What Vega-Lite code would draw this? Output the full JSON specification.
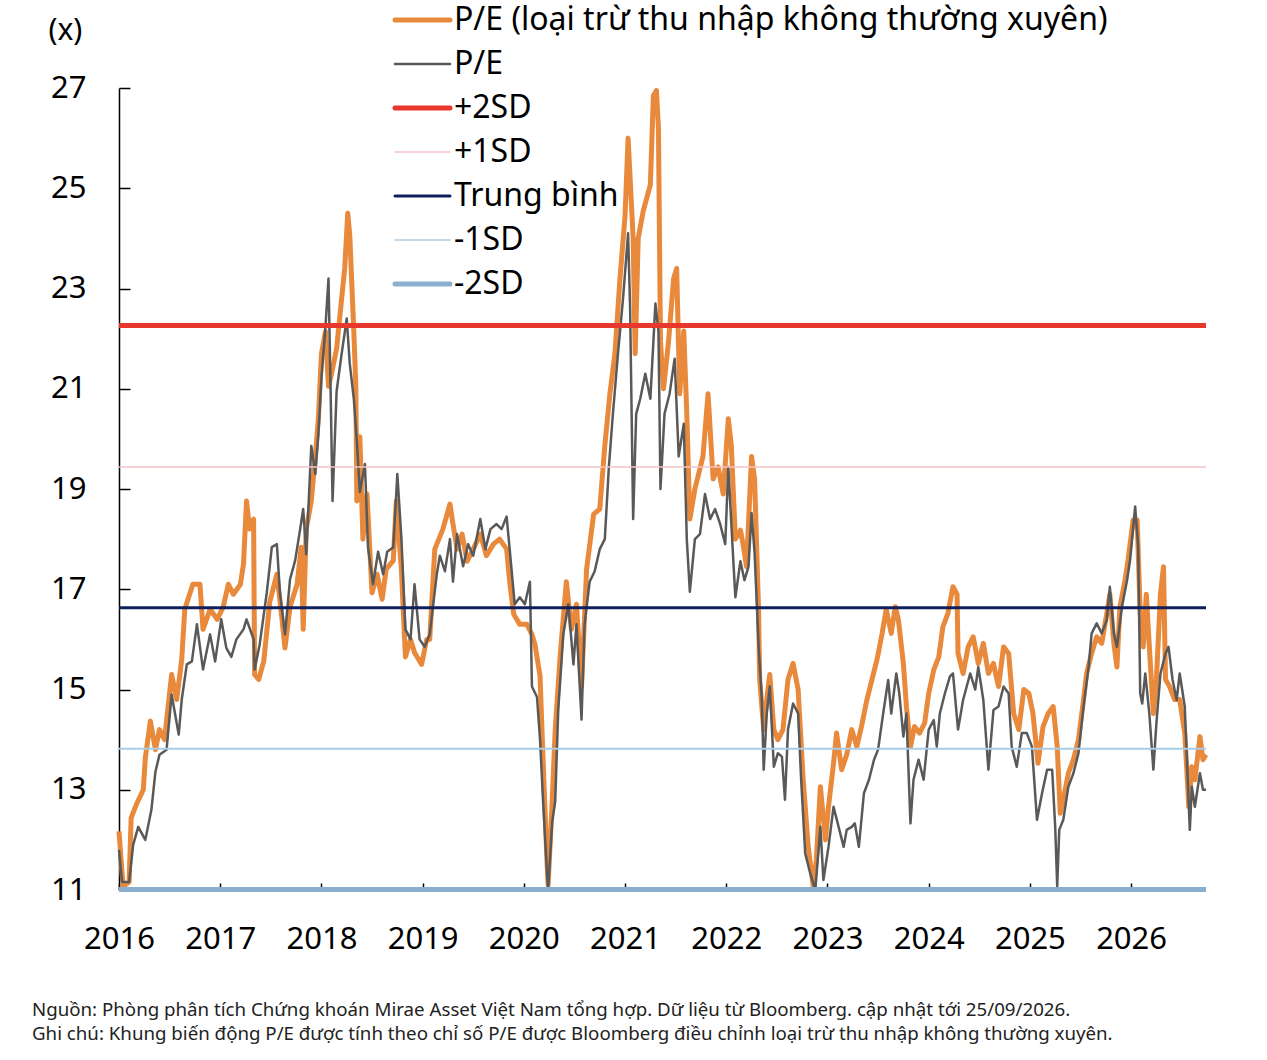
{
  "$schema": "https://vega.github.io/schema/vega-lite/v6.json",
  "width": 1087,
  "height": 802,
  "autosize": "none",
  "padding": {"left": 119, "top": 88, "right": 61, "bottom": 170},
  "background": "white",
  "config": {
    "font": "Noto Sans",
    "view": {"stroke": null},
    "axis": {"labelFont": "Noto Sans", "labelColor": "black", "domainColor": "black", "tickColor": "black", "grid": false}
  },
  "title": {
    "text": ["Nguồn: Phòng phân tích Chứng khoán Mirae Asset Việt Nam tổng hợp. Dữ liệu từ Bloomberg. cập nhật tới 25/09/2026.", "Ghi chú: Khung biến động P/E được tính theo chỉ số P/E được Bloomberg điều chỉnh loại trừ thu nhập không thường xuyên."],
    "orient": "bottom",
    "anchor": "start",
    "frame": "group",
    "offset": 47,
    "dx": -87,
    "font": "Noto Sans",
    "fontSize": 18.7,
    "fontWeight": "normal",
    "color": "#222222",
    "lineHeight": 24,
    "baseline": "top"
  },
  "datasets": {
    "pe": [
      {"series": "P/E (loại trừ thu nhập không thường xuyên)", "year": 2016.00, "value": 12.17},
      {"series": "P/E (loại trừ thu nhập không thường xuyên)", "year": 2016.04, "value": 11.07},
      {"series": "P/E (loại trừ thu nhập không thường xuyên)", "year": 2016.10, "value": 11.16},
      {"series": "P/E (loại trừ thu nhập không thường xuyên)", "year": 2016.12, "value": 12.44},
      {"series": "P/E (loại trừ thu nhập không thường xuyên)", "year": 2016.17, "value": 12.7},
      {"series": "P/E (loại trừ thu nhập không thường xuyên)", "year": 2016.24, "value": 13.0},
      {"series": "P/E (loại trừ thu nhập không thường xuyên)", "year": 2016.26, "value": 13.63},
      {"series": "P/E (loại trừ thu nhập không thường xuyên)", "year": 2016.31, "value": 14.37},
      {"series": "P/E (loại trừ thu nhập không thường xuyên)", "year": 2016.36, "value": 13.8},
      {"series": "P/E (loại trừ thu nhập không thường xuyên)", "year": 2016.40, "value": 14.2},
      {"series": "P/E (loại trừ thu nhập không thường xuyên)", "year": 2016.45, "value": 14.0},
      {"series": "P/E (loại trừ thu nhập không thường xuyên)", "year": 2016.52, "value": 15.3},
      {"series": "P/E (loại trừ thu nhập không thường xuyên)", "year": 2016.57, "value": 14.8},
      {"series": "P/E (loại trừ thu nhập không thường xuyên)", "year": 2016.62, "value": 15.6},
      {"series": "P/E (loại trừ thu nhập không thường xuyên)", "year": 2016.65, "value": 16.6},
      {"series": "P/E (loại trừ thu nhập không thường xuyên)", "year": 2016.73, "value": 17.1},
      {"series": "P/E (loại trừ thu nhập không thường xuyên)", "year": 2016.80, "value": 17.1},
      {"series": "P/E (loại trừ thu nhập không thường xuyên)", "year": 2016.83, "value": 16.2},
      {"series": "P/E (loại trừ thu nhập không thường xuyên)", "year": 2016.90, "value": 16.6},
      {"series": "P/E (loại trừ thu nhập không thường xuyên)", "year": 2016.97, "value": 16.4},
      {"series": "P/E (loại trừ thu nhập không thường xuyên)", "year": 2017.03, "value": 16.65},
      {"series": "P/E (loại trừ thu nhập không thường xuyên)", "year": 2017.08, "value": 17.1},
      {"series": "P/E (loại trừ thu nhập không thường xuyên)", "year": 2017.13, "value": 16.9},
      {"series": "P/E (loại trừ thu nhập không thường xuyên)", "year": 2017.20, "value": 17.1},
      {"series": "P/E (loại trừ thu nhập không thường xuyên)", "year": 2017.23, "value": 17.5},
      {"series": "P/E (loại trừ thu nhập không thường xuyên)", "year": 2017.26, "value": 18.76},
      {"series": "P/E (loại trừ thu nhập không thường xuyên)", "year": 2017.29, "value": 18.2},
      {"series": "P/E (loại trừ thu nhập không thường xuyên)", "year": 2017.33, "value": 18.4},
      {"series": "P/E (loại trừ thu nhập không thường xuyên)", "year": 2017.34, "value": 15.3},
      {"series": "P/E (loại trừ thu nhập không thường xuyên)", "year": 2017.38, "value": 15.2},
      {"series": "P/E (loại trừ thu nhập không thường xuyên)", "year": 2017.43, "value": 15.56},
      {"series": "P/E (loại trừ thu nhập không thường xuyên)", "year": 2017.49, "value": 16.75},
      {"series": "P/E (loại trừ thu nhập không thường xuyên)", "year": 2017.56, "value": 17.3},
      {"series": "P/E (loại trừ thu nhập không thường xuyên)", "year": 2017.60, "value": 16.6},
      {"series": "P/E (loại trừ thu nhập không thường xuyên)", "year": 2017.64, "value": 15.83},
      {"series": "P/E (loại trừ thu nhập không thường xuyên)", "year": 2017.69, "value": 16.65},
      {"series": "P/E (loại trừ thu nhập không thường xuyên)", "year": 2017.76, "value": 17.1},
      {"series": "P/E (loại trừ thu nhập không thường xuyên)", "year": 2017.80, "value": 17.84},
      {"series": "P/E (loại trừ thu nhập không thường xuyên)", "year": 2017.82, "value": 16.2},
      {"series": "P/E (loại trừ thu nhập không thường xuyên)", "year": 2017.85, "value": 18.2},
      {"series": "P/E (loại trừ thu nhập không thường xuyên)", "year": 2017.90, "value": 18.76},
      {"series": "P/E (loại trừ thu nhập không thường xuyên)", "year": 2017.94, "value": 19.67},
      {"series": "P/E (loại trừ thu nhập không thường xuyên)", "year": 2017.97, "value": 20.4},
      {"series": "P/E (loại trừ thu nhập không thường xuyên)", "year": 2018.00, "value": 21.7},
      {"series": "P/E (loại trừ thu nhập không thường xuyên)", "year": 2018.04, "value": 22.14},
      {"series": "P/E (loại trừ thu nhập không thường xuyên)", "year": 2018.07, "value": 21.05},
      {"series": "P/E (loại trừ thu nhập không thường xuyên)", "year": 2018.10, "value": 21.3},
      {"series": "P/E (loại trừ thu nhập không thường xuyên)", "year": 2018.15, "value": 21.8},
      {"series": "P/E (loại trừ thu nhập không thường xuyên)", "year": 2018.20, "value": 22.8},
      {"series": "P/E (loại trừ thu nhập không thường xuyên)", "year": 2018.23, "value": 23.4},
      {"series": "P/E (loại trừ thu nhập không thường xuyên)", "year": 2018.26, "value": 24.5},
      {"series": "P/E (loại trừ thu nhập không thường xuyên)", "year": 2018.28, "value": 24.07},
      {"series": "P/E (loại trừ thu nhập không thường xuyên)", "year": 2018.32, "value": 22.15},
      {"series": "P/E (loại trừ thu nhập không thường xuyên)", "year": 2018.34, "value": 21.05},
      {"series": "P/E (loại trừ thu nhập không thường xuyên)", "year": 2018.35, "value": 18.76},
      {"series": "P/E (loại trừ thu nhập không thường xuyên)", "year": 2018.38, "value": 20.04},
      {"series": "P/E (loại trừ thu nhập không thường xuyên)", "year": 2018.41, "value": 18.0},
      {"series": "P/E (loại trừ thu nhập không thường xuyên)", "year": 2018.45, "value": 18.9},
      {"series": "P/E (loại trừ thu nhập không thường xuyên)", "year": 2018.50, "value": 16.93},
      {"series": "P/E (loại trừ thu nhập không thường xuyên)", "year": 2018.55, "value": 17.3},
      {"series": "P/E (loại trừ thu nhập không thường xuyên)", "year": 2018.60, "value": 16.8},
      {"series": "P/E (loại trừ thu nhập không thường xuyên)", "year": 2018.64, "value": 17.4},
      {"series": "P/E (loại trừ thu nhập không thường xuyên)", "year": 2018.71, "value": 17.57},
      {"series": "P/E (loại trừ thu nhập không thường xuyên)", "year": 2018.74, "value": 18.76},
      {"series": "P/E (loại trừ thu nhập không thường xuyên)", "year": 2018.79, "value": 17.4},
      {"series": "P/E (loại trừ thu nhập không thường xuyên)", "year": 2018.83, "value": 15.65},
      {"series": "P/E (loại trừ thu nhập không thường xuyên)", "year": 2018.88, "value": 16.0},
      {"series": "P/E (loại trừ thu nhập không thường xuyên)", "year": 2018.92, "value": 15.74},
      {"series": "P/E (loại trừ thu nhập không thường xuyên)", "year": 2018.99, "value": 15.5},
      {"series": "P/E (loại trừ thu nhập không thường xuyên)", "year": 2019.04, "value": 16.0},
      {"series": "P/E (loại trừ thu nhập không thường xuyên)", "year": 2019.07, "value": 16.0},
      {"series": "P/E (loại trừ thu nhập không thường xuyên)", "year": 2019.12, "value": 17.8},
      {"series": "P/E (loại trừ thu nhập không thường xuyên)", "year": 2019.16, "value": 18.0},
      {"series": "P/E (loại trừ thu nhập không thường xuyên)", "year": 2019.20, "value": 18.2},
      {"series": "P/E (loại trừ thu nhập không thường xuyên)", "year": 2019.27, "value": 18.7},
      {"series": "P/E (loại trừ thu nhập không thường xuyên)", "year": 2019.30, "value": 18.3},
      {"series": "P/E (loại trừ thu nhập không thường xuyên)", "year": 2019.34, "value": 17.8},
      {"series": "P/E (loại trừ thu nhập không thường xuyên)", "year": 2019.39, "value": 18.1},
      {"series": "P/E (loại trừ thu nhập không thường xuyên)", "year": 2019.44, "value": 17.56},
      {"series": "P/E (loại trừ thu nhập không thường xuyên)", "year": 2019.50, "value": 17.8},
      {"series": "P/E (loại trừ thu nhập không thường xuyên)", "year": 2019.57, "value": 18.1},
      {"series": "P/E (loại trừ thu nhập không thường xuyên)", "year": 2019.63, "value": 17.67},
      {"series": "P/E (loại trừ thu nhập không thường xuyên)", "year": 2019.70, "value": 17.9},
      {"series": "P/E (loại trừ thu nhập không thường xuyên)", "year": 2019.76, "value": 18.0},
      {"series": "P/E (loại trừ thu nhập không thường xuyên)", "year": 2019.83, "value": 17.8},
      {"series": "P/E (loại trừ thu nhập không thường xuyên)", "year": 2019.86, "value": 17.15},
      {"series": "P/E (loại trừ thu nhập không thường xuyên)", "year": 2019.90, "value": 16.5},
      {"series": "P/E (loại trừ thu nhập không thường xuyên)", "year": 2019.96, "value": 16.3},
      {"series": "P/E (loại trừ thu nhập không thường xuyên)", "year": 2020.03, "value": 16.3},
      {"series": "P/E (loại trừ thu nhập không thường xuyên)", "year": 2020.08, "value": 16.1},
      {"series": "P/E (loại trừ thu nhập không thường xuyên)", "year": 2020.11, "value": 15.9},
      {"series": "P/E (loại trừ thu nhập không thường xuyên)", "year": 2020.16, "value": 15.27},
      {"series": "P/E (loại trừ thu nhập không thường xuyên)", "year": 2020.19, "value": 13.6},
      {"series": "P/E (loại trừ thu nhập không thường xuyên)", "year": 2020.23, "value": 11.5},
      {"series": "P/E (loại trừ thu nhập không thường xuyên)", "year": 2020.24, "value": 11.1},
      {"series": "P/E (loại trừ thu nhập không thường xuyên)", "year": 2020.28, "value": 12.77},
      {"series": "P/E (loại trừ thu nhập không thường xuyên)", "year": 2020.31, "value": 14.2},
      {"series": "P/E (loại trừ thu nhập không thường xuyên)", "year": 2020.36, "value": 15.7},
      {"series": "P/E (loại trừ thu nhập không thường xuyên)", "year": 2020.42, "value": 17.15},
      {"series": "P/E (loại trừ thu nhập không thường xuyên)", "year": 2020.47, "value": 16.2},
      {"series": "P/E (loại trừ thu nhập không thường xuyên)", "year": 2020.52, "value": 16.7},
      {"series": "P/E (loại trừ thu nhập không thường xuyên)", "year": 2020.57, "value": 15.06},
      {"series": "P/E (loại trừ thu nhập không thường xuyên)", "year": 2020.62, "value": 17.4},
      {"series": "P/E (loại trừ thu nhập không thường xuyên)", "year": 2020.69, "value": 18.5},
      {"series": "P/E (loại trừ thu nhập không thường xuyên)", "year": 2020.75, "value": 18.6},
      {"series": "P/E (loại trừ thu nhập không thường xuyên)", "year": 2020.80, "value": 19.86},
      {"series": "P/E (loại trừ thu nhập không thường xuyên)", "year": 2020.85, "value": 20.9},
      {"series": "P/E (loại trừ thu nhập không thường xuyên)", "year": 2020.90, "value": 21.7},
      {"series": "P/E (loại trừ thu nhập không thường xuyên)", "year": 2020.95, "value": 23.2},
      {"series": "P/E (loại trừ thu nhập không thường xuyên)", "year": 2021.00, "value": 24.45},
      {"series": "P/E (loại trừ thu nhập không thường xuyên)", "year": 2021.03, "value": 26.0},
      {"series": "P/E (loại trừ thu nhập không thường xuyên)", "year": 2021.08, "value": 24.0},
      {"series": "P/E (loại trừ thu nhập không thường xuyên)", "year": 2021.10, "value": 21.7},
      {"series": "P/E (loại trừ thu nhập không thường xuyên)", "year": 2021.13, "value": 24.0},
      {"series": "P/E (loại trừ thu nhập không thường xuyên)", "year": 2021.18, "value": 24.55},
      {"series": "P/E (loại trừ thu nhập không thường xuyên)", "year": 2021.25, "value": 25.07},
      {"series": "P/E (loại trừ thu nhập không thường xuyên)", "year": 2021.28, "value": 26.85},
      {"series": "P/E (loại trừ thu nhập không thường xuyên)", "year": 2021.31, "value": 26.95},
      {"series": "P/E (loại trừ thu nhập không thường xuyên)", "year": 2021.33, "value": 26.2},
      {"series": "P/E (loại trừ thu nhập không thường xuyên)", "year": 2021.35, "value": 21.95},
      {"series": "P/E (loại trừ thu nhập không thường xuyên)", "year": 2021.38, "value": 21.0},
      {"series": "P/E (loại trừ thu nhập không thường xuyên)", "year": 2021.43, "value": 21.95},
      {"series": "P/E (loại trừ thu nhập không thường xuyên)", "year": 2021.48, "value": 23.2},
      {"series": "P/E (loại trừ thu nhập không thường xuyên)", "year": 2021.51, "value": 23.4},
      {"series": "P/E (loại trừ thu nhập không thường xuyên)", "year": 2021.54, "value": 20.9},
      {"series": "P/E (loại trừ thu nhập không thường xuyên)", "year": 2021.58, "value": 22.15},
      {"series": "P/E (loại trừ thu nhập không thường xuyên)", "year": 2021.61, "value": 20.5},
      {"series": "P/E (loại trừ thu nhập không thường xuyên)", "year": 2021.64, "value": 18.4},
      {"series": "P/E (loại trừ thu nhập không thường xuyên)", "year": 2021.69, "value": 19.0},
      {"series": "P/E (loại trừ thu nhập không thường xuyên)", "year": 2021.77, "value": 19.65},
      {"series": "P/E (loại trừ thu nhập không thường xuyên)", "year": 2021.82, "value": 20.9},
      {"series": "P/E (loại trừ thu nhập không thường xuyên)", "year": 2021.87, "value": 19.2},
      {"series": "P/E (loại trừ thu nhập không thường xuyên)", "year": 2021.92, "value": 19.44},
      {"series": "P/E (loại trừ thu nhập không thường xuyên)", "year": 2021.97, "value": 18.9},
      {"series": "P/E (loại trừ thu nhập không thường xuyên)", "year": 2022.02, "value": 20.4},
      {"series": "P/E (loại trừ thu nhập không thường xuyên)", "year": 2022.05, "value": 19.86},
      {"series": "P/E (loại trừ thu nhập không thường xuyên)", "year": 2022.09, "value": 18.0},
      {"series": "P/E (loại trừ thu nhập không thường xuyên)", "year": 2022.14, "value": 18.18},
      {"series": "P/E (loại trừ thu nhập không thường xuyên)", "year": 2022.17, "value": 17.85},
      {"series": "P/E (loại trừ thu nhập không thường xuyên)", "year": 2022.20, "value": 17.45},
      {"series": "P/E (loại trừ thu nhập không thường xuyên)", "year": 2022.25, "value": 19.65},
      {"series": "P/E (loại trừ thu nhập không thường xuyên)", "year": 2022.28, "value": 19.2},
      {"series": "P/E (loại trừ thu nhập không thường xuyên)", "year": 2022.32, "value": 16.52},
      {"series": "P/E (loại trừ thu nhập không thường xuyên)", "year": 2022.33, "value": 15.2},
      {"series": "P/E (loại trừ thu nhập không thường xuyên)", "year": 2022.37, "value": 14.2},
      {"series": "P/E (loại trừ thu nhập không thường xuyên)", "year": 2022.40, "value": 14.8},
      {"series": "P/E (loại trừ thu nhập không thường xuyên)", "year": 2022.43, "value": 15.3},
      {"series": "P/E (loại trừ thu nhập không thường xuyên)", "year": 2022.47, "value": 14.2},
      {"series": "P/E (loại trừ thu nhập không thường xuyên)", "year": 2022.51, "value": 14.0},
      {"series": "P/E (loại trừ thu nhập không thường xuyên)", "year": 2022.56, "value": 14.2},
      {"series": "P/E (loại trừ thu nhập không thường xuyên)", "year": 2022.61, "value": 15.2},
      {"series": "P/E (loại trừ thu nhập không thường xuyên)", "year": 2022.66, "value": 15.52},
      {"series": "P/E (loại trừ thu nhập không thường xuyên)", "year": 2022.71, "value": 15.0},
      {"series": "P/E (loại trừ thu nhập không thường xuyên)", "year": 2022.76, "value": 13.2},
      {"series": "P/E (loại trừ thu nhập không thường xuyên)", "year": 2022.81, "value": 11.86},
      {"series": "P/E (loại trừ thu nhập không thường xuyên)", "year": 2022.86, "value": 11.06},
      {"series": "P/E (loại trừ thu nhập không thường xuyên)", "year": 2022.89, "value": 11.6},
      {"series": "P/E (loại trừ thu nhập không thường xuyên)", "year": 2022.93, "value": 13.06},
      {"series": "P/E (loại trừ thu nhập không thường xuyên)", "year": 2022.98, "value": 12.0},
      {"series": "P/E (loại trừ thu nhập không thường xuyên)", "year": 2023.01, "value": 12.66},
      {"series": "P/E (loại trừ thu nhập không thường xuyên)", "year": 2023.06, "value": 13.53},
      {"series": "P/E (loại trừ thu nhập không thường xuyên)", "year": 2023.09, "value": 14.13},
      {"series": "P/E (loại trừ thu nhập không thường xuyên)", "year": 2023.14, "value": 13.4},
      {"series": "P/E (loại trừ thu nhập không thường xuyên)", "year": 2023.19, "value": 13.7},
      {"series": "P/E (loại trừ thu nhập không thường xuyên)", "year": 2023.24, "value": 14.2},
      {"series": "P/E (loại trừ thu nhập không thường xuyên)", "year": 2023.29, "value": 13.86},
      {"series": "P/E (loại trừ thu nhập không thường xuyên)", "year": 2023.34, "value": 14.3},
      {"series": "P/E (loại trừ thu nhập không thường xuyên)", "year": 2023.39, "value": 14.8},
      {"series": "P/E (loại trừ thu nhập không thường xuyên)", "year": 2023.44, "value": 15.2},
      {"series": "P/E (loại trừ thu nhập không thường xuyên)", "year": 2023.49, "value": 15.6},
      {"series": "P/E (loại trừ thu nhập không thường xuyên)", "year": 2023.54, "value": 16.12},
      {"series": "P/E (loại trừ thu nhập không thường xuyên)", "year": 2023.58, "value": 16.6},
      {"series": "P/E (loại trừ thu nhập không thường xuyên)", "year": 2023.63, "value": 16.12},
      {"series": "P/E (loại trừ thu nhập không thường xuyên)", "year": 2023.67, "value": 16.65},
      {"series": "P/E (loại trừ thu nhập không thường xuyên)", "year": 2023.70, "value": 16.4},
      {"series": "P/E (loại trừ thu nhập không thường xuyên)", "year": 2023.75, "value": 15.52},
      {"series": "P/E (loại trừ thu nhập không thường xuyên)", "year": 2023.78, "value": 14.66},
      {"series": "P/E (loại trừ thu nhập không thường xuyên)", "year": 2023.82, "value": 13.86},
      {"series": "P/E (loại trừ thu nhập không thường xuyên)", "year": 2023.86, "value": 14.26},
      {"series": "P/E (loại trừ thu nhập không thường xuyên)", "year": 2023.91, "value": 14.13},
      {"series": "P/E (loại trừ thu nhập không thường xuyên)", "year": 2023.96, "value": 14.33},
      {"series": "P/E (loại trừ thu nhập không thường xuyên)", "year": 2024.00, "value": 14.92},
      {"series": "P/E (loại trừ thu nhập không thường xuyên)", "year": 2024.05, "value": 15.39},
      {"series": "P/E (loại trừ thu nhập không thường xuyên)", "year": 2024.10, "value": 15.65},
      {"series": "P/E (loại trừ thu nhập không thường xuyên)", "year": 2024.14, "value": 16.25},
      {"series": "P/E (loại trừ thu nhập không thường xuyên)", "year": 2024.19, "value": 16.52},
      {"series": "P/E (loại trừ thu nhập không thường xuyên)", "year": 2024.24, "value": 17.05},
      {"series": "P/E (loại trừ thu nhập không thường xuyên)", "year": 2024.28, "value": 16.9},
      {"series": "P/E (loại trừ thu nhập không thường xuyên)", "year": 2024.29, "value": 15.72},
      {"series": "P/E (loại trừ thu nhập không thường xuyên)", "year": 2024.34, "value": 15.32},
      {"series": "P/E (loại trừ thu nhập không thường xuyên)", "year": 2024.39, "value": 15.85},
      {"series": "P/E (loại trừ thu nhập không thường xuyên)", "year": 2024.44, "value": 16.05},
      {"series": "P/E (loại trừ thu nhập không thường xuyên)", "year": 2024.49, "value": 15.52},
      {"series": "P/E (loại trừ thu nhập không thường xuyên)", "year": 2024.54, "value": 15.92},
      {"series": "P/E (loại trừ thu nhập không thường xuyên)", "year": 2024.59, "value": 15.32},
      {"series": "P/E (loại trừ thu nhập không thường xuyên)", "year": 2024.64, "value": 15.52},
      {"series": "P/E (loại trừ thu nhập không thường xuyên)", "year": 2024.69, "value": 15.06},
      {"series": "P/E (loại trừ thu nhập không thường xuyên)", "year": 2024.74, "value": 15.85},
      {"series": "P/E (loại trừ thu nhập không thường xuyên)", "year": 2024.79, "value": 15.72},
      {"series": "P/E (loại trừ thu nhập không thường xuyên)", "year": 2024.84, "value": 14.52},
      {"series": "P/E (loại trừ thu nhập không thường xuyên)", "year": 2024.89, "value": 14.2},
      {"series": "P/E (loại trừ thu nhập không thường xuyên)", "year": 2024.94, "value": 15.0},
      {"series": "P/E (loại trừ thu nhập không thường xuyên)", "year": 2024.99, "value": 14.92},
      {"series": "P/E (loại trừ thu nhập không thường xuyên)", "year": 2025.03, "value": 14.52},
      {"series": "P/E (loại trừ thu nhập không thường xuyên)", "year": 2025.08, "value": 13.53},
      {"series": "P/E (loại trừ thu nhập không thường xuyên)", "year": 2025.13, "value": 14.26},
      {"series": "P/E (loại trừ thu nhập không thường xuyên)", "year": 2025.18, "value": 14.52},
      {"series": "P/E (loại trừ thu nhập không thường xuyên)", "year": 2025.23, "value": 14.66},
      {"series": "P/E (loại trừ thu nhập không thường xuyên)", "year": 2025.27, "value": 13.86},
      {"series": "P/E (loại trừ thu nhập không thường xuyên)", "year": 2025.30, "value": 12.53},
      {"series": "P/E (loại trừ thu nhập không thường xuyên)", "year": 2025.33, "value": 12.8},
      {"series": "P/E (loại trừ thu nhập không thường xuyên)", "year": 2025.38, "value": 13.33},
      {"series": "P/E (loại trừ thu nhập không thường xuyên)", "year": 2025.43, "value": 13.6},
      {"series": "P/E (loại trừ thu nhập không thường xuyên)", "year": 2025.48, "value": 14.0},
      {"series": "P/E (loại trừ thu nhập không thường xuyên)", "year": 2025.53, "value": 14.8},
      {"series": "P/E (loại trừ thu nhập không thường xuyên)", "year": 2025.56, "value": 15.32},
      {"series": "P/E (loại trừ thu nhập không thường xuyên)", "year": 2025.61, "value": 15.72},
      {"series": "P/E (loại trừ thu nhập không thường xuyên)", "year": 2025.66, "value": 16.05},
      {"series": "P/E (loại trừ thu nhập không thường xuyên)", "year": 2025.71, "value": 15.92},
      {"series": "P/E (loại trừ thu nhập không thường xuyên)", "year": 2025.76, "value": 16.52},
      {"series": "P/E (loại trừ thu nhập không thường xuyên)", "year": 2025.79, "value": 16.9},
      {"series": "P/E (loại trừ thu nhập không thường xuyên)", "year": 2025.83, "value": 15.92},
      {"series": "P/E (loại trừ thu nhập không thường xuyên)", "year": 2025.86, "value": 15.45},
      {"series": "P/E (loại trừ thu nhập không thường xuyên)", "year": 2025.89, "value": 16.65},
      {"series": "P/E (loại trừ thu nhập không thường xuyên)", "year": 2025.94, "value": 17.18},
      {"series": "P/E (loại trừ thu nhập không thường xuyên)", "year": 2025.97, "value": 17.58},
      {"series": "P/E (loại trừ thu nhập không thường xuyên)", "year": 2026.02, "value": 18.38},
      {"series": "P/E (loại trừ thu nhập không thường xuyên)", "year": 2026.06, "value": 18.38},
      {"series": "P/E (loại trừ thu nhập không thường xuyên)", "year": 2026.09, "value": 16.52},
      {"series": "P/E (loại trừ thu nhập không thường xuyên)", "year": 2026.12, "value": 15.85},
      {"series": "P/E (loại trừ thu nhập không thường xuyên)", "year": 2026.15, "value": 16.9},
      {"series": "P/E (loại trừ thu nhập không thường xuyên)", "year": 2026.19, "value": 15.52},
      {"series": "P/E (loại trừ thu nhập không thường xuyên)", "year": 2026.22, "value": 14.52},
      {"series": "P/E (loại trừ thu nhập không thường xuyên)", "year": 2026.25, "value": 15.2},
      {"series": "P/E (loại trừ thu nhập không thường xuyên)", "year": 2026.29, "value": 16.9},
      {"series": "P/E (loại trừ thu nhập không thường xuyên)", "year": 2026.32, "value": 17.45},
      {"series": "P/E (loại trừ thu nhập không thường xuyên)", "year": 2026.34, "value": 15.2},
      {"series": "P/E (loại trừ thu nhập không thường xuyên)", "year": 2026.38, "value": 15.06},
      {"series": "P/E (loại trừ thu nhập không thường xuyên)", "year": 2026.43, "value": 14.8},
      {"series": "P/E (loại trừ thu nhập không thường xuyên)", "year": 2026.48, "value": 14.8},
      {"series": "P/E (loại trừ thu nhập không thường xuyên)", "year": 2026.53, "value": 14.13},
      {"series": "P/E (loại trừ thu nhập không thường xuyên)", "year": 2026.57, "value": 12.66},
      {"series": "P/E (loại trừ thu nhập không thường xuyên)", "year": 2026.60, "value": 13.46},
      {"series": "P/E (loại trừ thu nhập không thường xuyên)", "year": 2026.63, "value": 13.2},
      {"series": "P/E (loại trừ thu nhập không thường xuyên)", "year": 2026.68, "value": 14.06},
      {"series": "P/E (loại trừ thu nhập không thường xuyên)", "year": 2026.71, "value": 13.6},
      {"series": "P/E (loại trừ thu nhập không thường xuyên)", "year": 2026.74, "value": 13.7},

      {"series": "P/E", "year": 2016.00, "value": 11.8},
      {"series": "P/E", "year": 2016.03, "value": 11.16},
      {"series": "P/E", "year": 2016.10, "value": 11.16},
      {"series": "P/E", "year": 2016.14, "value": 11.9},
      {"series": "P/E", "year": 2016.19, "value": 12.26},
      {"series": "P/E", "year": 2016.26, "value": 12.0},
      {"series": "P/E", "year": 2016.32, "value": 12.6},
      {"series": "P/E", "year": 2016.36, "value": 13.36},
      {"series": "P/E", "year": 2016.40, "value": 13.7},
      {"series": "P/E", "year": 2016.47, "value": 13.8},
      {"series": "P/E", "year": 2016.52, "value": 14.9},
      {"series": "P/E", "year": 2016.59, "value": 14.1},
      {"series": "P/E", "year": 2016.62, "value": 14.8},
      {"series": "P/E", "year": 2016.67, "value": 15.5},
      {"series": "P/E", "year": 2016.72, "value": 15.56},
      {"series": "P/E", "year": 2016.77, "value": 16.3},
      {"series": "P/E", "year": 2016.83, "value": 15.4},
      {"series": "P/E", "year": 2016.90, "value": 16.1},
      {"series": "P/E", "year": 2016.95, "value": 15.56},
      {"series": "P/E", "year": 2017.01, "value": 16.4},
      {"series": "P/E", "year": 2017.06, "value": 15.83},
      {"series": "P/E", "year": 2017.11, "value": 15.65},
      {"series": "P/E", "year": 2017.16, "value": 16.0},
      {"series": "P/E", "year": 2017.23, "value": 16.2},
      {"series": "P/E", "year": 2017.26, "value": 16.4},
      {"series": "P/E", "year": 2017.33, "value": 16.0},
      {"series": "P/E", "year": 2017.34, "value": 15.4},
      {"series": "P/E", "year": 2017.39, "value": 15.9},
      {"series": "P/E", "year": 2017.46, "value": 16.93},
      {"series": "P/E", "year": 2017.51, "value": 17.84},
      {"series": "P/E", "year": 2017.56, "value": 17.9},
      {"series": "P/E", "year": 2017.59, "value": 16.93},
      {"series": "P/E", "year": 2017.64, "value": 16.1},
      {"series": "P/E", "year": 2017.69, "value": 17.2},
      {"series": "P/E", "year": 2017.74, "value": 17.57},
      {"series": "P/E", "year": 2017.79, "value": 18.2},
      {"series": "P/E", "year": 2017.82, "value": 18.6},
      {"series": "P/E", "year": 2017.85, "value": 17.7},
      {"series": "P/E", "year": 2017.90, "value": 19.86},
      {"series": "P/E", "year": 2017.94, "value": 19.3},
      {"series": "P/E", "year": 2017.97, "value": 20.1},
      {"series": "P/E", "year": 2018.00, "value": 21.2},
      {"series": "P/E", "year": 2018.04, "value": 22.24},
      {"series": "P/E", "year": 2018.07, "value": 23.2},
      {"series": "P/E", "year": 2018.09, "value": 21.05},
      {"series": "P/E", "year": 2018.11, "value": 18.76},
      {"series": "P/E", "year": 2018.15, "value": 20.95},
      {"series": "P/E", "year": 2018.20, "value": 21.7},
      {"series": "P/E", "year": 2018.25, "value": 22.4},
      {"series": "P/E", "year": 2018.28, "value": 21.5},
      {"series": "P/E", "year": 2018.32, "value": 20.8},
      {"series": "P/E", "year": 2018.35, "value": 19.95},
      {"series": "P/E", "year": 2018.38, "value": 18.94},
      {"series": "P/E", "year": 2018.43, "value": 19.5},
      {"series": "P/E", "year": 2018.46, "value": 17.84},
      {"series": "P/E", "year": 2018.51, "value": 17.1},
      {"series": "P/E", "year": 2018.56, "value": 17.75},
      {"series": "P/E", "year": 2018.61, "value": 17.3},
      {"series": "P/E", "year": 2018.65, "value": 17.75},
      {"series": "P/E", "year": 2018.71, "value": 17.84},
      {"series": "P/E", "year": 2018.75, "value": 19.3},
      {"series": "P/E", "year": 2018.79, "value": 18.03},
      {"series": "P/E", "year": 2018.83, "value": 16.2},
      {"series": "P/E", "year": 2018.88, "value": 16.0},
      {"series": "P/E", "year": 2018.92, "value": 17.1},
      {"series": "P/E", "year": 2018.97, "value": 16.0},
      {"series": "P/E", "year": 2019.02, "value": 15.85},
      {"series": "P/E", "year": 2019.07, "value": 16.1},
      {"series": "P/E", "year": 2019.14, "value": 17.3},
      {"series": "P/E", "year": 2019.17, "value": 17.67},
      {"series": "P/E", "year": 2019.22, "value": 17.36},
      {"series": "P/E", "year": 2019.27, "value": 18.0},
      {"series": "P/E", "year": 2019.30, "value": 17.15},
      {"series": "P/E", "year": 2019.34, "value": 18.1},
      {"series": "P/E", "year": 2019.40, "value": 17.46},
      {"series": "P/E", "year": 2019.45, "value": 17.9},
      {"series": "P/E", "year": 2019.50, "value": 17.67},
      {"series": "P/E", "year": 2019.57, "value": 18.4},
      {"series": "P/E", "year": 2019.62, "value": 17.8},
      {"series": "P/E", "year": 2019.67, "value": 18.2},
      {"series": "P/E", "year": 2019.73, "value": 18.3},
      {"series": "P/E", "year": 2019.78, "value": 18.2},
      {"series": "P/E", "year": 2019.83, "value": 18.45},
      {"series": "P/E", "year": 2019.86, "value": 17.8},
      {"series": "P/E", "year": 2019.91, "value": 16.7},
      {"series": "P/E", "year": 2019.96, "value": 16.84},
      {"series": "P/E", "year": 2020.01, "value": 16.7},
      {"series": "P/E", "year": 2020.06, "value": 17.15},
      {"series": "P/E", "year": 2020.08, "value": 15.06},
      {"series": "P/E", "year": 2020.13, "value": 14.85},
      {"series": "P/E", "year": 2020.16, "value": 14.0},
      {"series": "P/E", "year": 2020.19, "value": 12.77},
      {"series": "P/E", "year": 2020.23, "value": 11.3},
      {"series": "P/E", "year": 2020.24, "value": 11.0},
      {"series": "P/E", "year": 2020.28, "value": 12.35},
      {"series": "P/E", "year": 2020.31, "value": 12.77},
      {"series": "P/E", "year": 2020.34, "value": 14.6},
      {"series": "P/E", "year": 2020.39, "value": 16.1},
      {"series": "P/E", "year": 2020.44, "value": 16.7},
      {"series": "P/E", "year": 2020.49, "value": 15.5},
      {"series": "P/E", "year": 2020.52, "value": 16.3},
      {"series": "P/E", "year": 2020.57, "value": 14.4},
      {"series": "P/E", "year": 2020.60, "value": 16.3},
      {"series": "P/E", "year": 2020.65, "value": 17.15},
      {"series": "P/E", "year": 2020.70, "value": 17.36},
      {"series": "P/E", "year": 2020.75, "value": 17.8},
      {"series": "P/E", "year": 2020.80, "value": 18.0},
      {"series": "P/E", "year": 2020.84, "value": 19.44},
      {"series": "P/E", "year": 2020.88, "value": 20.5},
      {"series": "P/E", "year": 2020.93, "value": 21.7},
      {"series": "P/E", "year": 2020.98, "value": 22.8},
      {"series": "P/E", "year": 2021.03, "value": 24.1},
      {"series": "P/E", "year": 2021.05, "value": 22.6},
      {"series": "P/E", "year": 2021.08, "value": 18.4},
      {"series": "P/E", "year": 2021.11, "value": 20.5},
      {"series": "P/E", "year": 2021.15, "value": 20.8},
      {"series": "P/E", "year": 2021.20, "value": 21.3},
      {"series": "P/E", "year": 2021.25, "value": 20.8},
      {"series": "P/E", "year": 2021.30, "value": 22.7},
      {"series": "P/E", "year": 2021.33, "value": 22.15},
      {"series": "P/E", "year": 2021.35, "value": 19.0},
      {"series": "P/E", "year": 2021.39, "value": 20.5},
      {"series": "P/E", "year": 2021.44, "value": 20.9},
      {"series": "P/E", "year": 2021.49, "value": 21.6},
      {"series": "P/E", "year": 2021.53, "value": 19.65},
      {"series": "P/E", "year": 2021.58, "value": 20.3},
      {"series": "P/E", "year": 2021.61, "value": 18.0},
      {"series": "P/E", "year": 2021.64, "value": 16.95},
      {"series": "P/E", "year": 2021.69, "value": 18.0},
      {"series": "P/E", "year": 2021.74, "value": 18.1},
      {"series": "P/E", "year": 2021.79, "value": 18.9},
      {"series": "P/E", "year": 2021.84, "value": 18.4},
      {"series": "P/E", "year": 2021.89, "value": 18.6},
      {"series": "P/E", "year": 2021.94, "value": 18.3},
      {"series": "P/E", "year": 2021.99, "value": 17.9},
      {"series": "P/E", "year": 2022.02, "value": 19.44},
      {"series": "P/E", "year": 2022.07, "value": 17.56},
      {"series": "P/E", "year": 2022.09, "value": 16.84},
      {"series": "P/E", "year": 2022.14, "value": 17.56},
      {"series": "P/E", "year": 2022.18, "value": 17.18},
      {"series": "P/E", "year": 2022.22, "value": 17.45},
      {"series": "P/E", "year": 2022.25, "value": 18.52},
      {"series": "P/E", "year": 2022.28, "value": 17.72},
      {"series": "P/E", "year": 2022.32, "value": 15.85},
      {"series": "P/E", "year": 2022.35, "value": 14.86},
      {"series": "P/E", "year": 2022.37, "value": 13.4},
      {"series": "P/E", "year": 2022.40, "value": 14.52},
      {"series": "P/E", "year": 2022.43, "value": 15.06},
      {"series": "P/E", "year": 2022.47, "value": 13.46},
      {"series": "P/E", "year": 2022.51, "value": 13.73},
      {"series": "P/E", "year": 2022.55, "value": 13.66},
      {"series": "P/E", "year": 2022.58, "value": 12.8},
      {"series": "P/E", "year": 2022.61, "value": 14.2},
      {"series": "P/E", "year": 2022.66, "value": 14.72},
      {"series": "P/E", "year": 2022.71, "value": 14.52},
      {"series": "P/E", "year": 2022.74, "value": 13.2},
      {"series": "P/E", "year": 2022.78, "value": 11.73},
      {"series": "P/E", "year": 2022.83, "value": 11.33},
      {"series": "P/E", "year": 2022.88, "value": 11.0},
      {"series": "P/E", "year": 2022.93, "value": 12.26},
      {"series": "P/E", "year": 2022.96, "value": 11.2},
      {"series": "P/E", "year": 2023.01, "value": 11.86},
      {"series": "P/E", "year": 2023.06, "value": 12.66},
      {"series": "P/E", "year": 2023.11, "value": 12.26},
      {"series": "P/E", "year": 2023.16, "value": 11.86},
      {"series": "P/E", "year": 2023.19, "value": 12.2},
      {"series": "P/E", "year": 2023.24, "value": 12.26},
      {"series": "P/E", "year": 2023.27, "value": 12.33},
      {"series": "P/E", "year": 2023.31, "value": 11.86},
      {"series": "P/E", "year": 2023.36, "value": 12.93},
      {"series": "P/E", "year": 2023.41, "value": 13.2},
      {"series": "P/E", "year": 2023.46, "value": 13.6},
      {"series": "P/E", "year": 2023.50, "value": 13.8},
      {"series": "P/E", "year": 2023.55, "value": 14.52},
      {"series": "P/E", "year": 2023.60, "value": 15.19},
      {"series": "P/E", "year": 2023.63, "value": 14.52},
      {"series": "P/E", "year": 2023.68, "value": 15.32},
      {"series": "P/E", "year": 2023.71, "value": 14.92},
      {"series": "P/E", "year": 2023.75, "value": 14.06},
      {"series": "P/E", "year": 2023.78, "value": 14.52},
      {"series": "P/E", "year": 2023.82, "value": 12.33},
      {"series": "P/E", "year": 2023.85, "value": 13.2},
      {"series": "P/E", "year": 2023.90, "value": 13.6},
      {"series": "P/E", "year": 2023.95, "value": 13.2},
      {"series": "P/E", "year": 2024.00, "value": 14.2},
      {"series": "P/E", "year": 2024.05, "value": 14.39},
      {"series": "P/E", "year": 2024.08, "value": 13.86},
      {"series": "P/E", "year": 2024.11, "value": 14.52},
      {"series": "P/E", "year": 2024.16, "value": 14.92},
      {"series": "P/E", "year": 2024.21, "value": 15.26},
      {"series": "P/E", "year": 2024.24, "value": 15.32},
      {"series": "P/E", "year": 2024.29, "value": 14.2},
      {"series": "P/E", "year": 2024.34, "value": 14.79},
      {"series": "P/E", "year": 2024.41, "value": 15.32},
      {"series": "P/E", "year": 2024.46, "value": 15.0},
      {"series": "P/E", "year": 2024.49, "value": 15.45},
      {"series": "P/E", "year": 2024.54, "value": 14.79},
      {"series": "P/E", "year": 2024.59, "value": 13.4},
      {"series": "P/E", "year": 2024.64, "value": 14.59},
      {"series": "P/E", "year": 2024.69, "value": 14.66},
      {"series": "P/E", "year": 2024.74, "value": 15.06},
      {"series": "P/E", "year": 2024.79, "value": 14.92},
      {"series": "P/E", "year": 2024.82, "value": 13.86},
      {"series": "P/E", "year": 2024.87, "value": 13.46},
      {"series": "P/E", "year": 2024.92, "value": 14.13},
      {"series": "P/E", "year": 2024.97, "value": 14.13},
      {"series": "P/E", "year": 2025.02, "value": 13.86},
      {"series": "P/E", "year": 2025.07, "value": 12.4},
      {"series": "P/E", "year": 2025.12, "value": 12.93},
      {"series": "P/E", "year": 2025.17, "value": 13.4},
      {"series": "P/E", "year": 2025.22, "value": 13.4},
      {"series": "P/E", "year": 2025.25, "value": 12.26},
      {"series": "P/E", "year": 2025.27, "value": 11.07},
      {"series": "P/E", "year": 2025.29, "value": 12.2},
      {"series": "P/E", "year": 2025.33, "value": 12.4},
      {"series": "P/E", "year": 2025.38, "value": 13.06},
      {"series": "P/E", "year": 2025.43, "value": 13.33},
      {"series": "P/E", "year": 2025.48, "value": 13.73},
      {"series": "P/E", "year": 2025.53, "value": 14.66},
      {"series": "P/E", "year": 2025.58, "value": 15.45},
      {"series": "P/E", "year": 2025.61, "value": 16.12},
      {"series": "P/E", "year": 2025.66, "value": 16.32},
      {"series": "P/E", "year": 2025.71, "value": 16.12},
      {"series": "P/E", "year": 2025.76, "value": 16.39},
      {"series": "P/E", "year": 2025.79, "value": 17.05},
      {"series": "P/E", "year": 2025.83, "value": 16.12},
      {"series": "P/E", "year": 2025.86, "value": 15.85},
      {"series": "P/E", "year": 2025.91, "value": 16.65},
      {"series": "P/E", "year": 2025.96, "value": 17.18},
      {"series": "P/E", "year": 2025.99, "value": 17.58},
      {"series": "P/E", "year": 2026.04, "value": 18.65},
      {"series": "P/E", "year": 2026.07, "value": 17.85},
      {"series": "P/E", "year": 2026.09, "value": 14.92},
      {"series": "P/E", "year": 2026.11, "value": 14.72},
      {"series": "P/E", "year": 2026.14, "value": 15.32},
      {"series": "P/E", "year": 2026.18, "value": 14.52},
      {"series": "P/E", "year": 2026.22, "value": 13.4},
      {"series": "P/E", "year": 2026.25, "value": 14.33},
      {"series": "P/E", "year": 2026.29, "value": 15.32},
      {"series": "P/E", "year": 2026.34, "value": 15.72},
      {"series": "P/E", "year": 2026.37, "value": 15.85},
      {"series": "P/E", "year": 2026.41, "value": 15.19},
      {"series": "P/E", "year": 2026.45, "value": 14.79},
      {"series": "P/E", "year": 2026.48, "value": 15.32},
      {"series": "P/E", "year": 2026.53, "value": 14.66},
      {"series": "P/E", "year": 2026.58, "value": 12.2},
      {"series": "P/E", "year": 2026.60, "value": 13.06},
      {"series": "P/E", "year": 2026.63, "value": 12.66},
      {"series": "P/E", "year": 2026.68, "value": 13.33},
      {"series": "P/E", "year": 2026.71, "value": 13.0},
      {"series": "P/E", "year": 2026.74, "value": 13.0},

      {"series": "+2SD", "year": 2016.0, "value": 22.26},
      {"series": "+2SD", "year": 2026.74, "value": 22.26},
      {"series": "+1SD", "year": 2016.0, "value": 19.44},
      {"series": "+1SD", "year": 2026.74, "value": 19.44},
      {"series": "Trung bình", "year": 2016.0, "value": 16.63},
      {"series": "Trung bình", "year": 2026.74, "value": 16.63},
      {"series": "-1SD", "year": 2016.0, "value": 13.82},
      {"series": "-1SD", "year": 2026.74, "value": 13.82},
      {"series": "-2SD", "year": 2016.0, "value": 11.01},
      {"series": "-2SD", "year": 2026.74, "value": 11.01}
    ]
  },
  "data": {"name": "pe"},
  "encoding": {
    "x": {
      "field": "year", "type": "quantitative",
      "scale": {"domain": [2016, 2026.74], "nice": false, "zero": false},
      "axis": {"title": null, "values": [2016, 2017, 2018, 2019, 2020, 2021, 2022, 2023, 2024, 2025, 2026], "format": "d", "labelFontSize": 31, "tickSize": -7, "tickWidth": 1.5, "labelPadding": 41, "domain": false, "labelFlush": false}
    },
    "y": {
      "field": "value", "type": "quantitative",
      "scale": {"domain": [11, 27], "nice": false, "zero": false},
      "axis": {"title": "(x)", "titleAngle": 0, "titleAlign": "left", "titleBaseline": "middle", "titleX": -71, "titleY": -58, "titleFontSize": 30, "titleFontWeight": "normal", "titleFont": "Noto Sans", "titleColor": "black", "values": [11, 13, 15, 17, 19, 21, 23, 25, 27], "labelFontSize": 31, "tickSize": -11, "tickWidth": 1.5, "domainWidth": 1.5, "labelPadding": 44, "labelFlush": false}
    },
    "color": {
      "field": "series", "type": "nominal",
      "scale": {
        "domain": ["P/E (loại trừ thu nhập không thường xuyên)", "P/E", "+2SD", "+1SD", "Trung bình", "-1SD", "-2SD"],
        "range": ["#E8893C", "#595959", "#E8372D", "#F4C5C9", "#0F1F5C", "#A9CDE9", "#8AAFCF"]
      },
      "legend": {
        "title": null, "orient": "none", "legendX": 287.5, "legendY": -84, "direction": "vertical", "padding": 0,
        "labelFontSize": 32, "labelFont": "Noto Sans", "labelColor": "black", "labelLimit": 1000, "labelOffset": 15.5,
        "symbolType": "stroke", "symbolSize": 3025, "rowPadding": 12,
        "encode": {"symbols": {"update": {"strokeCap": {"value": "round"}, "strokeWidth": {"signal": "datum.value === 'P/E (loại trừ thu nhập không thường xuyên)' ? 5 : datum.value === 'P/E' ? 2.5 : datum.value === '+2SD' ? 5 : datum.value === '+1SD' ? 1.5 : datum.value === 'Trung bình' ? 3 : datum.value === '-1SD' ? 1.5 : 5"}}}}
      }
    }
  },
  "layer": [
    {"transform": [{"filter": "datum.series === 'P/E (loại trừ thu nhập không thường xuyên)'"}], "mark": {"type": "line", "strokeWidth": 5, "strokeJoin": "round"}},
    {"transform": [{"filter": "datum.series === 'P/E'"}], "mark": {"type": "line", "strokeWidth": 2.5, "strokeJoin": "round"}},
    {"transform": [{"filter": "datum.series === '+1SD'"}], "mark": {"type": "line", "strokeWidth": 1.5}},
    {"transform": [{"filter": "datum.series === '-1SD'"}], "mark": {"type": "line", "strokeWidth": 2}},
    {"transform": [{"filter": "datum.series === 'Trung bình'"}], "mark": {"type": "line", "strokeWidth": 3}},
    {"transform": [{"filter": "datum.series === '+2SD'"}], "mark": {"type": "line", "strokeWidth": 5}},
    {"transform": [{"filter": "datum.series === '-2SD'"}], "mark": {"type": "line", "strokeWidth": 5}}
  ]
}
